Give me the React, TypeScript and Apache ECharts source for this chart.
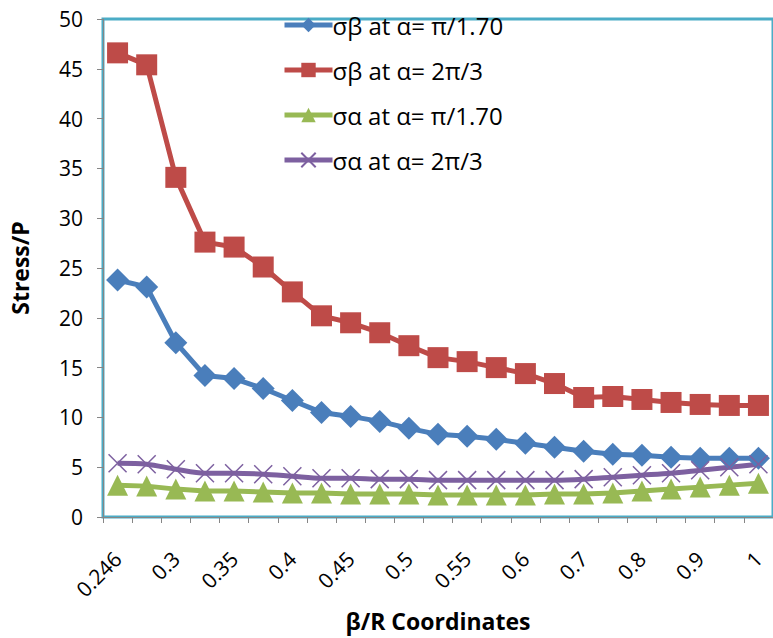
import React, { useEffect, useRef } from "react";
import * as echarts from "echarts";

const categories = ["0.246","0.27","0.3","0.325","0.35","0.375","0.4","0.425","0.45","0.475","0.5","0.525","0.55","0.575","0.6","0.65","0.7","0.75","0.8","0.85","0.9","0.95","1"];
const sigmaBetaA = [23.8, 23.1, 17.5, 14.2, 13.9, 12.9, 11.7, 10.5, 10.1, 9.6, 8.9, 8.3, 8.1, 7.8, 7.4, 7.0, 6.6, 6.3, 6.2, 6.0, 5.9, 5.9, 5.9];
const sigmaBetaB = [46.6, 45.4, 34.1, 27.6, 27.1, 25.1, 22.6, 20.2, 19.5, 18.5, 17.2, 16.0, 15.6, 15.0, 14.4, 13.4, 12.0, 12.1, 11.8, 11.5, 11.3, 11.2, 11.2];
const sigmaAlphaA = [3.2, 3.1, 2.8, 2.6, 2.6, 2.5, 2.4, 2.4, 2.3, 2.3, 2.3, 2.2, 2.2, 2.2, 2.2, 2.3, 2.3, 2.4, 2.6, 2.8, 3.0, 3.2, 3.4];
const sigmaAlphaB = [5.4, 5.3, 4.8, 4.4, 4.4, 4.3, 4.1, 3.9, 3.9, 3.8, 3.8, 3.7, 3.7, 3.7, 3.7, 3.7, 3.8, 4.0, 4.2, 4.4, 4.7, 5.0, 5.3];
const seriesNames = ["σβ at α= π/1.70", "σβ at α= 2π/3", "σα at α= π/1.70", "σα at α= 2π/3"];

const FONT = "Open Sans";
const CROSS = "path://M0,0L10,10M10,0L0,10";

export default function App() {
  const ref = useRef<HTMLDivElement>(null);
  useEffect(() => {
    document.body.style.margin = "0";
    const chart = echarts.init(ref.current!, null, { renderer: "svg" });
    const mk = (name: string, data: number[], color: string, symbol: string, size: number, extra: any = {}) => ({
      name,
      type: "line",
      data,
      symbol,
      symbolSize: size,
      showSymbol: true,
      showAllSymbol: true,
      lineStyle: { color, width: 5 },
      itemStyle: { color, borderColor: color, borderWidth: 0, opacity: 1 },
      z: 3,
      ...extra,
    });
    chart.setOption({
      animation: false,
      textStyle: { fontFamily: FONT },
      grid: {
        left: 100, top: 19, right: -8, bottom: 121,
        show: true, borderColor: "#4BACC6", borderWidth: 3, backgroundColor: "#fff",
      },
      legend: {
        orient: "vertical",
        left: 277,
        top: 8,
        itemGap: 21,
        itemWidth: 48,
        itemHeight: 18,
        lineStyle: { width: 5 },
        textStyle: { fontFamily: FONT, fontSize: 24, color: "#000", padding: [0, 0, 0, -5] },
        data: seriesNames,
      },
      xAxis: {
        type: "category",
        data: categories,
        boundaryGap: true,
        name: "β/R Coordinates",
        nameLocation: "middle",
        nameGap: 92,
        nameTextStyle: { fontFamily: FONT, fontSize: 23, fontWeight: "bold", color: "#000" },
        axisLine: { show: true, lineStyle: { color: "#868686", width: 1 } },
        axisTick: { show: true, interval: 0, length: 6, lineStyle: { color: "#868686" } },
        axisLabel: { interval: 1, rotate: 45, fontFamily: FONT, fontSize: 21, color: "#000", margin: 38 },
        splitLine: { show: false },
      },
      yAxis: {
        type: "value",
        min: 0, max: 50, interval: 5,
        name: "Stress/P",
        nameLocation: "middle",
        nameGap: 72,
        nameTextStyle: { fontFamily: FONT, fontSize: 23, fontWeight: "bold", color: "#000" },
        axisLine: { show: true, lineStyle: { color: "#868686", width: 1 } },
        axisTick: { show: true, inside: false, length: 6, lineStyle: { color: "#868686" } },
        axisLabel: { fontFamily: FONT, fontSize: 21, color: "#000", margin: 20 },
        splitLine: { show: false },
      },
      series: [
        mk(seriesNames[0], sigmaBetaA, "#4A7EBB", "diamond", 23),
        mk(seriesNames[1], sigmaBetaB, "#BE4B48", "rect", 21),
        mk(seriesNames[2], sigmaAlphaA, "#98B954", "triangle", 21),
        {
          ...mk(seriesNames[3], sigmaAlphaB, "#7D60A0", CROSS, 18, { smooth: 0.3 }),
          itemStyle: { color: "#7D60A0", borderColor: "#7D60A0", borderWidth: 1.5, opacity: 1 },
        },
      ],
    });
    return () => chart.dispose();
  }, []);
  return <div ref={ref} style={{ width: 773, height: 638 }} />;
}
